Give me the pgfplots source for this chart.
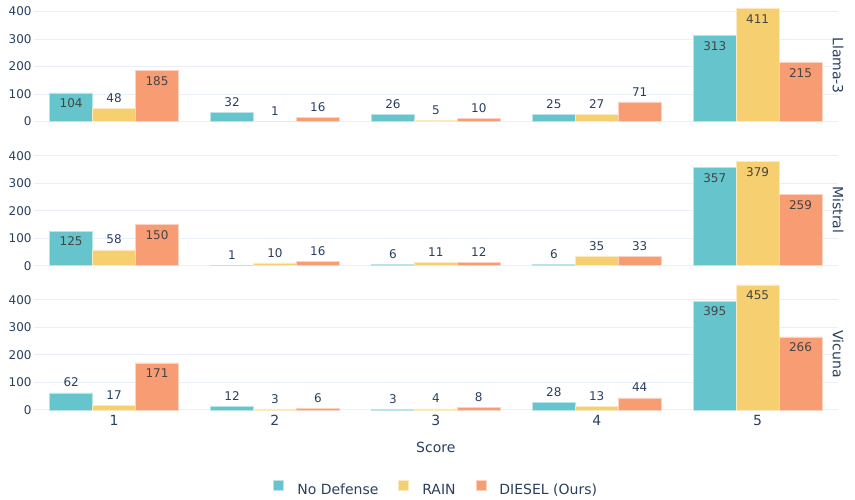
\documentclass[border=0pt]{standalone}
\usepackage{pgfplots}
\pgfplotsset{compat=1.18}
\usepackage{fontspec}
\setmainfont{DejaVu Sans}

\definecolor{nodef}{HTML}{66C5CC}
\definecolor{rain}{HTML}{F6CF71}
\definecolor{diesel}{HTML}{F89C74}
\definecolor{txt}{HTML}{2A3F5F}
\definecolor{intxt}{HTML}{444444}
\definecolor{gridc}{HTML}{EBF0F8}

\newcommand\fs[1]{\fontsize{#1}{#1}\selectfont}

% 1px of the reference = 1pt here; one x unit = 160.9pt
\pgfplotsset{
  panel/.style={
    scale only axis, width=804.5pt, height=131.7pt,
    anchor=south west,
    xmin=0.5, xmax=5.5, ymin=0, ymax=479,
    axis line style={draw=none}, major tick length=0pt,
    xtick={1,2,3,4,5}, ytick={0,100,200,300,400},
    xticklabels={},
    ymajorgrids, grid style={gridc, line width=1pt},
    /pgf/number format/assume math mode=true,
    yticklabel style={font=\fs{12}, text=txt, anchor=east, inner sep=0pt, xshift=-1.8pt},
    clip=false,
  },
  bars/.style 2 args={
    ybar, bar width=0.2667, bar shift=#2,
    fill=#1, draw=#1!45!white, line width=0.5pt,
    legend image code/.code={\fill (0pt,0pt) rectangle (10pt,10pt);},
    visualization depends on={y \as \rawy},
    nodes near coords={\ifdim\rawy pt<100pt\color{txt}\else\color{intxt}\fi\pgfmathprintnumber{\rawy}},
    nodes near coords align={center},
    every node near coord/.append style={anchor=center, inner sep=0pt, font=\fs{12},
      xshift={#2*160.9}, yshift={\rawy<100 ? 10.3 : -10.3}},
  },
}
\tikzset{sidelbl/.style={rotate=-90, font=\fs{14}, text=txt, anchor=center, xshift=10pt}}

\begin{document}
\begin{tikzpicture}

% Llama-3
\begin{axis}[panel, at={(33.6pt,-121.5pt)}]
\addplot[bars={nodef}{-0.2667}] coordinates {(1,104) (2,32) (3,26) (4,25) (5,313)};
\addplot[bars={rain}{0}] coordinates {(1,48) (2,1) (3,5) (4,27) (5,411)};
\addplot[bars={diesel}{0.2667}] coordinates {(1,185) (2,16) (3,10) (4,71) (5,215)};
\node[sidelbl] at (rel axis cs:1,0.5) {Llama-3};
\end{axis}

% Mistral
\begin{axis}[panel, at={(33.6pt,-265.7pt)}]
\addplot[bars={nodef}{-0.2667}] coordinates {(1,125) (2,1) (3,6) (4,6) (5,357)};
\addplot[bars={rain}{0}] coordinates {(1,58) (2,10) (3,11) (4,35) (5,379)};
\addplot[bars={diesel}{0.2667}] coordinates {(1,150) (2,16) (3,12) (4,33) (5,259)};
\node[sidelbl] at (rel axis cs:1,0.5) {Mistral};
\end{axis}

% Vicuna
\begin{axis}[panel, at={(33.6pt,-409.9pt)},
  xticklabels={1,2,3,4,5},
  xticklabel style={font=\fs{14}, text=txt, anchor=center, yshift=-10.8pt},
  xlabel={Score},
  xlabel style={at={(0.5,0)}, anchor=center, yshift=-37.6pt, font=\fs{14}, text=txt},
  legend columns=3,
  legend style={at={(0.5005,-0.6006)}, anchor=center, draw=none, fill=none,
    font=\fs{14}, text=txt,
    /tikz/every odd column/.append style={column sep=11.3pt},
    /tikz/every even column/.append style={column sep=18pt}},
]
\addplot[bars={nodef}{-0.2667}] coordinates {(1,62) (2,12) (3,3) (4,28) (5,395)};
\addlegendentry{No Defense}
\addplot[bars={rain}{0}] coordinates {(1,17) (2,3) (3,4) (4,13) (5,455)};
\addlegendentry{RAIN}
\addplot[bars={diesel}{0.2667}] coordinates {(1,171) (2,6) (3,8) (4,44) (5,266)};
\addlegendentry{DIESEL (Ours)}
\node[sidelbl] at (rel axis cs:1,0.5) {Vicuna};
\end{axis}

\pgfresetboundingbox
\path (0pt,0pt) rectangle (855pt,-500pt);
\end{tikzpicture}
\end{document}
